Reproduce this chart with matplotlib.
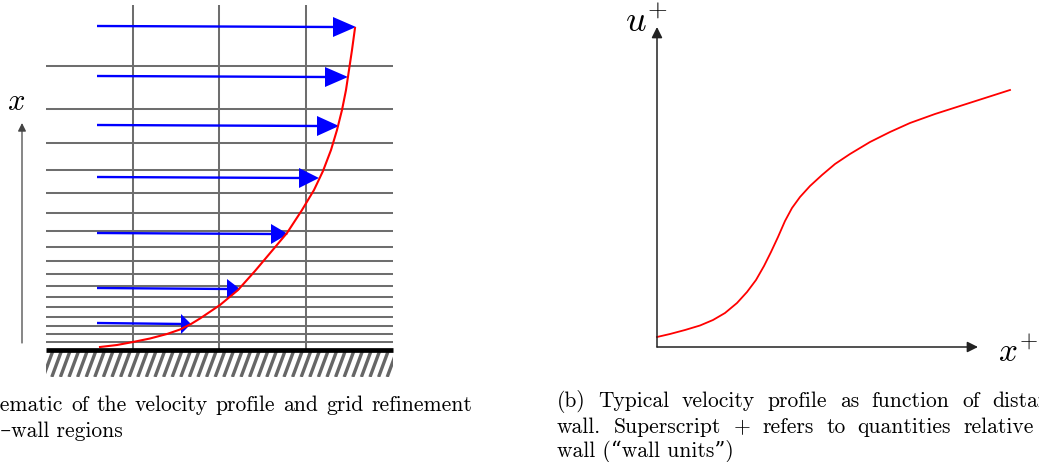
import numpy as np
import matplotlib.pyplot as plt
from matplotlib.patches import Polygon, Rectangle

plt.rcParams['mathtext.fontset'] = 'cm'
SERIF = ['cmr10', 'DejaVu Serif']

W, H = 1039, 462

# ---- (a) mesh near the wall, laid out in pixel units of the sheet ----
mesh_cols = [133, 219, 306]
mesh_rows = [66, 109, 143, 170, 193, 213, 231, 247, 261, 274, 286, 297,
             307, 317, 326, 334, 342]
mesh_left, mesh_right, mesh_top = 46, 393, 5
wall_y, hatch_bottom = 350, 377

# velocity arrows: height, tip position, head length
arrow_y = [27, 77, 126, 178, 234, 289, 324]
arrow_tip = [356, 348, 339, 319, 288, 240, 191]
arrow_head = [23, 23, 22, 20, 17, 13, 10]
arrow_tail = 97

# red velocity profile through the arrow tips
profile_x = [100, 117, 133, 150, 167, 180, 191, 200, 220, 238, 255, 271,
             287, 302, 314, 323, 331, 337, 342, 346, 349, 352, 355]
profile_y = [347, 345, 342, 338.5, 334, 329.5, 324, 318.5, 305, 290, 271,
             252, 233, 210, 190, 171, 150, 130, 110, 90, 70, 50, 28]

# ---- (b) u+ against x+ ----
origin = (657, 347)
u_axis_tip = 27
x_axis_tip = 978
uplus_x = [657, 670, 685, 700, 713, 725, 737, 747, 756, 764, 771, 778, 785,
           792, 800, 810, 822, 835, 850, 870, 890, 910, 935, 960, 985, 1010]
uplus_y = [337, 334, 330, 325.5, 320, 313, 303, 292, 280, 266, 252, 237,
           221, 208, 197, 186, 175, 164, 154, 142, 132, 123, 114, 106, 98, 90]

# caption lines: words, first anchor (word, x of its start),
# second anchor (word, x, which edge of the word), baseline
caption_a = [("(a) Schematic of the velocity profile and grid refinement".split(),
              (1, -33), (8, 472, 'end'), 411)]
caption_b = [("(b) Typical velocity profile as function of distance to the".split(),
              (0, 557), (7, 992, 'start'), 407),
             ("wall. Superscript + refers to quantities relative to the".split(),
              (0, 557), (6, 1034, 'end'), 433)]

fig = plt.figure(figsize=(W / 100, H / 100), dpi=100)
ax = fig.add_axes([0, 0, 1, 1])
ax.set_xlim(0, W)
ax.set_ylim(H, 0)
ax.axis('off')

grid_c = '#6e6e6e'
for x in mesh_cols:
    ax.plot([x, x], [mesh_top, wall_y], color=grid_c, lw=1.45, solid_capstyle='butt')
for y in mesh_rows:
    ax.plot([mesh_left, mesh_right], [y, y], color=grid_c, lw=1.45, solid_capstyle='butt')

# hatched wall
clip = Rectangle((mesh_left, wall_y), mesh_right - mesh_left, hatch_bottom - wall_y,
                 transform=ax.transData, fill=False, lw=0)
ax.add_patch(clip)
for xs in np.arange(mesh_left - 20, mesh_right + 10, 8.6):
    ln, = ax.plot([xs, xs + 10], [hatch_bottom, wall_y], color='#666666', lw=2.4,
                  solid_capstyle='butt')
    ln.set_clip_path(clip)
ax.plot([mesh_left, mesh_right], [wall_y, wall_y], color='black', lw=3.4,
        solid_capstyle='butt')

for y, tip, hl in zip(arrow_y, arrow_tip, arrow_head):
    ax.plot([arrow_tail, tip - hl + 2], [y - 1, y], color='#0000ff', lw=1.7,
            solid_capstyle='butt', zorder=3)
    ax.add_patch(Polygon([(tip, y), (tip - hl, y - 10), (tip - hl, y + 10)],
                         closed=True, color='#0000ff', lw=0, zorder=3))

ax.plot(profile_x, profile_y, color='#ff0000', lw=1.5, zorder=4)

# x direction arrow on the left
ax.annotate('', xy=(22, 123), xytext=(22, 343),
            arrowprops=dict(arrowstyle='-|>', color='#444444', lw=0.9,
                            mutation_scale=12, shrinkA=0, shrinkB=0))
ax.text(7, 110, r'$x$', fontsize=22, ha='left', va='baseline')

# axes of panel (b)
ax.annotate('', xy=(origin[0], u_axis_tip), xytext=origin,
            arrowprops=dict(arrowstyle='-|>', color='#222222', lw=1.1,
                            mutation_scale=16, shrinkA=0, shrinkB=0))
ax.annotate('', xy=(x_axis_tip, origin[1]), xytext=origin,
            arrowprops=dict(arrowstyle='-|>', color='#222222', lw=1.1,
                            mutation_scale=16, shrinkA=0, shrinkB=0))
ax.plot(uplus_x, uplus_y, color='#ff0000', lw=1.3)
ax.text(625, 32, r'$u^{+}$', fontsize=26, ha='left', va='baseline')
ax.text(998, 362, r'$x^{+}$', fontsize=24, ha='left', va='baseline')

# captions, justified word by word
CAP = 15.5
renderer = fig.canvas.get_renderer()


def word_widths(words):
    out = []
    for w in words:
        t = ax.text(0, 0, w, fontsize=CAP, family=SERIF)
        out.append(t.get_window_extent(renderer).width)
        t.remove()
    return out


def justified(words, a, b, y):
    wd = word_widths(words)
    i, xi = a
    j, xj, edge = b
    span = xj - xi - sum(wd[i:j])
    if edge == 'end':
        span -= wd[j]
    gap = span / (j - i)
    pos = [0.0] * len(words)
    pos[i] = xi
    for k in range(i + 1, len(words)):
        pos[k] = pos[k - 1] + wd[k - 1] + gap
    for k in range(i - 1, -1, -1):
        pos[k] = pos[k + 1] - gap - wd[k]
    for w, x in zip(words, pos):
        ax.text(x, y, w, fontsize=CAP, family=SERIF, ha='left', va='baseline')


for words, a, b, y in caption_a + caption_b:
    justified(words, a, b, y)
ax.text(123, 437, 'in near\u2013wall regions', fontsize=CAP, family=SERIF,
        ha='right', va='baseline')
ax.text(557, 457, 'wall (\u201cwall units\u201d)', fontsize=CAP, family=SERIF,
        ha='left', va='baseline')

fig.savefig('out.png', dpi=100)
